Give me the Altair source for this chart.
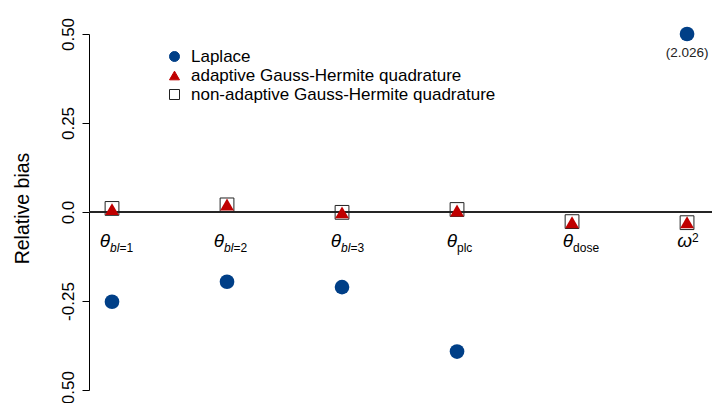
import altair as alt
import pandas as pd

# ---- data ----
params = ["bl=1", "bl=2", "bl=3", "plc", "dose", "omega2"]
laplace = [-0.252, -0.196, -0.211, -0.392, None, 2.026]
adaptive = [0.008, 0.021, -0.001, 0.004, -0.029, -0.029]
nonadaptive = [0.010, 0.020, -0.001, 0.007, -0.027, -0.030]
methods = ["Laplace", "adaptive Gauss-Hermite quadrature",
           "non-adaptive Gauss-Hermite quadrature"]

# label pieces
main_sym = ["θ", "θ", "θ", "θ", "θ", "ω"]
sub_italic = ["bl", "bl", "bl", "", "", ""]
sub_plain = ["=1", "=2", "=3", "plc", "dose", ""]
sup_text = ["", "", "", "", "", "2"]
y_ticks = [-0.5, -0.25, 0.0, 0.25, 0.5]
Y_CAP = 0.5

# ---- styling / layout ----
BLUE = "#003F87"
RED = "#C00000"
DARK = "#222222"
FONT = "Liberation Sans"
X_DOMAIN = [0.8, 6.217]
PLOT_W, PLOT_H = 623, 356
PX_PER_X = PLOT_W / (X_DOMAIN[1] - X_DOMAIN[0])
label_shift = [-2, -3, -1, 0, 1, 5]     # px: right edge of the main glyph vs point
ITALIC_SUB_W = 9.5                      # px width of the italic "bl" subscript

rows = []
for m, vals in zip(methods, [laplace, adaptive, nonadaptive]):
    for i, v in enumerate(vals):
        if v is None:
            continue
        rows.append({"method": m, "pos": i + 1, "value": v,
                     "shown": min(v, Y_CAP)})
df = pd.DataFrame(rows)

lab = pd.DataFrame({
    "pos": list(range(1, len(params) + 1)),
    "main": main_sym,
    "subi": sub_italic,
    "subp": sub_plain,
    "sup": sup_text,
    "shift": label_shift,
})
lab["x_main"] = lab["pos"] + lab["shift"] / PX_PER_X
lab["x_subp"] = lab["pos"] + (lab["shift"] + lab["subi"].apply(
    lambda s: ITALIC_SUB_W if s else 0)) / PX_PER_X
lab["zero"] = 0.0

capped = df[df["value"] > Y_CAP].copy()
capped["txt"] = capped["value"].map(lambda v: f"({v:.3f})")

xs = alt.Scale(domain=X_DOMAIN, nice=False, zero=False)
ys = alt.Scale(domain=[-0.5, 0.5], nice=False, zero=False)

leg = alt.Legend(title=None, orient="none", legendX=77, legendY=14,
                 symbolSize=100, labelFontSize=17, labelFont=FONT,
                 labelColor="black", labelOffset=8, rowPadding=1, padding=0,
                 symbolStrokeWidth=1, labelLimit=500)

shape_enc = alt.Shape("method:N", scale=alt.Scale(
    domain=methods, range=["circle", "triangle-up", "square"]), legend=leg)
fill_enc = alt.Fill("method:N", scale=alt.Scale(
    domain=methods, range=[BLUE, RED, "transparent"]), legend=leg)
stroke_enc = alt.Stroke("method:N", scale=alt.Scale(
    domain=methods, range=[BLUE, RED, DARK]), legend=leg)

yaxis = alt.Axis(values=y_ticks, title="Relative bias", grid=False,
                 labelExpr="datum.value < 0 ? '-' + format(-datum.value, '.2f') : (datum.value == 0 ? '0.0' : format(datum.value, '.2f'))",
                 labelAngle=270, labelAlign="center", labelBaseline="alphabetic",
                 labelPadding=9, tickSize=7, tickColor="black", domainColor="black",
                 labelFontSize=17, labelFont=FONT, labelColor="black",
                 titleFontSize=19.5, titleFont=FONT, titleFontWeight="normal",
                 titleColor="black", titleAngle=270, titleX=-61, titleY=174,
                 titleAlign="center", titleBaseline="alphabetic")

base = alt.Chart(df)

zero = alt.Chart(lab).mark_rule(color=DARK, strokeWidth=1).encode(
    y=alt.Y("zero:Q", scale=ys, axis=yaxis)
)

def pts(method, size, sw):
    return base.transform_filter(alt.datum.method == method).mark_point(
        size=size, opacity=1, strokeWidth=sw
    ).encode(
        x=alt.X("pos:Q", scale=xs, axis=None),
        y=alt.Y("shown:Q", scale=ys, axis=yaxis),
        shape=shape_enc, fill=fill_enc, stroke=stroke_enc,
    )

circles = pts(methods[0], 215, 0)
squares = pts(methods[2], 190, 1)
tris = pts(methods[1], 190, 0)

note = alt.Chart(capped).mark_text(font=FONT, fontSize=13.5, color="#222",
                                    baseline="alphabetic", dy=23).encode(
    x=alt.X("pos:Q", scale=xs, axis=None),
    y=alt.Y("shown:Q", scale=ys),
    text="txt:N",
)

lbase = alt.Chart(lab)
main_t = lbase.mark_text(font=FONT, fontSize=19, fontStyle="italic", align="right",
                         baseline="alphabetic", dy=35, color="black").encode(
    x=alt.X("x_main:Q", scale=xs, axis=None), y=alt.Y("zero:Q", scale=ys),
    text="main:N")
subi_t = lbase.mark_text(font=FONT, fontSize=12, fontStyle="italic", align="left",
                         baseline="alphabetic", dy=40, color="black").encode(
    x=alt.X("x_main:Q", scale=xs, axis=None), y=alt.Y("zero:Q", scale=ys),
    text="subi:N")
subp_t = lbase.mark_text(font=FONT, fontSize=12, align="left",
                         baseline="alphabetic", dy=40, color="black").encode(
    x=alt.X("x_subp:Q", scale=xs, axis=None), y=alt.Y("zero:Q", scale=ys),
    text="subp:N")
sup_t = lbase.mark_text(font=FONT, fontSize=12, align="left",
                        baseline="alphabetic", dy=30, color="black").encode(
    x=alt.X("x_main:Q", scale=xs, axis=None), y=alt.Y("zero:Q", scale=ys),
    text="sup:N")

chart = alt.layer(zero, circles, squares, tris, note,
                  main_t, subi_t, subp_t, sup_t).properties(
    width=PLOT_W, height=PLOT_H,
    autosize=alt.AutoSizeParams(type="none"),
    padding={"left": 81, "top": 26, "right": 2, "bottom": 13},
    background="white",
).configure_view(stroke=None).resolve_scale(
    shape="shared", fill="shared", stroke="shared")

chart.save("out.html", embed_options={"renderer": "svg", "actions": False})
